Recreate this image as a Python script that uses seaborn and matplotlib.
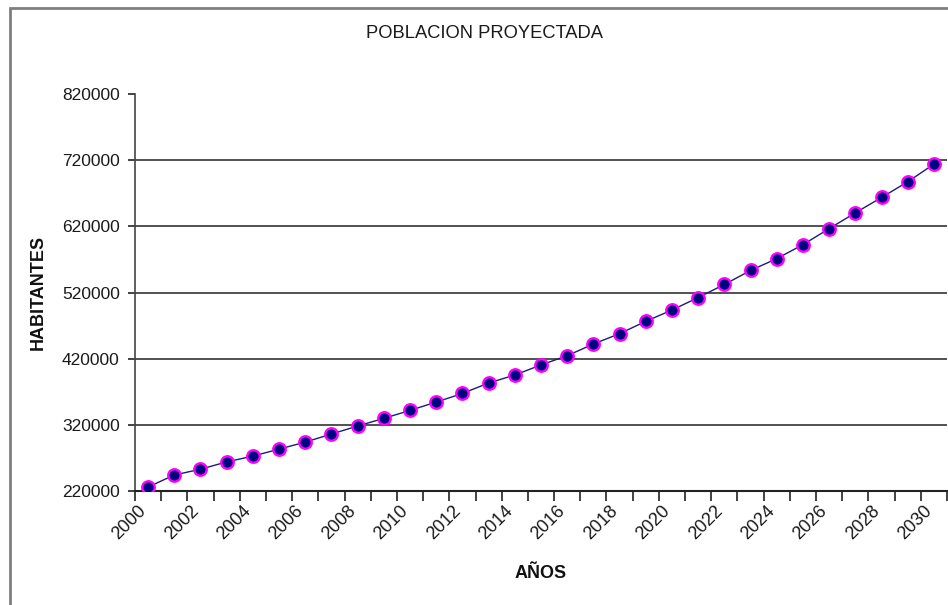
import matplotlib
matplotlib.use("Agg")
import matplotlib.pyplot as plt
from matplotlib.patches import Rectangle
import numpy as np
import pandas as pd
import seaborn as sns

# Projected population by year
years = list(range(2000, 2031))
habitantes = [226000, 244200, 252900, 264000, 272700, 283300, 293900, 306100,
              318200, 329800, 341800, 354400, 367400, 383200, 395300, 410500,
              424500, 442100, 457800, 476400, 493500, 512400, 532100, 553300,
              571200, 592300, 616500, 640400, 663600, 687300, 714000]
y_ticks = [220000, 320000, 420000, 520000, 620000, 720000, 820000]
x_labels = list(range(2000, 2031, 2))

df = pd.DataFrame({"AÑOS": years, "HABITANTES": habitantes})

sns.set_theme(style="white")
plt.rcParams["font.family"] = ["Liberation Sans", "DejaVu Sans"]

fig = plt.figure(figsize=(9.48, 6.05), dpi=100)
ax = fig.add_axes([135 / 948, 1 - 491 / 605, 812 / 948, 397 / 605])

# outer chart frame
fig.patches.append(Rectangle((10 / 948, -0.05), 1.1, 1 - 8 / 605 + 0.05,
                             transform=fig.transFigure, fill=False,
                             edgecolor="#7f7f7f", linewidth=2, zorder=0))

sns.lineplot(data=df, x="AÑOS", y="HABITANTES", ax=ax, color="#1a1a80",
             linewidth=1.0, marker="o", markersize=9,
             markerfacecolor="#000080", markeredgecolor="#ff00ff",
             markeredgewidth=1.7, zorder=3)

ax.set_xlim(1999.5, 2030.5)
ax.set_ylim(220000, 820000)

# category boundaries carry the tick marks; rotated labels end just
# left of their year's centre
ax.set_xticks(np.arange(1999.5, 2031, 1.0))
ax.set_xticklabels([])
ax.set_xticks([y - 0.4 for y in x_labels], minor=True)
ax.set_xticklabels([str(y) for y in x_labels], minor=True, rotation=45,
                   ha="right", va="top", rotation_mode="anchor", fontsize=13,
                   color="#1a1a1a")
ax.tick_params(axis="x", which="major", direction="out", length=7, width=1.2,
               color="#222222", bottom=True)
ax.tick_params(axis="x", which="minor", length=0, pad=8, bottom=True)

ax.set_yticks(y_ticks)
ax.set_yticklabels([str(v) for v in y_ticks], fontsize=12.5, color="#1a1a1a")
ax.tick_params(axis="y", direction="out", length=5, width=1.2,
               color="#222222", left=True, pad=6)

ax.grid(axis="y", color="#333333", linewidth=1.2)
ax.grid(axis="x", visible=False)
ax.yaxis.get_gridlines()[-1].set_visible(False)
for side in ("top", "right"):
    ax.spines[side].set_visible(False)
ax.spines["left"].set_color("#444444")
ax.spines["left"].set_linewidth(1.2)
ax.spines["bottom"].set_color("#222222")
ax.spines["bottom"].set_linewidth(1.5)

ax.set_xlabel("AÑOS", fontsize=13, fontweight="bold", color="#111111",
              labelpad=16)
ax.set_ylabel("HABITANTES", fontsize=13, fontweight="bold", color="#111111",
              labelpad=11)
fig.text(485 / 948, 1 - 33 / 605, "POBLACION PROYECTADA", ha="center",
         va="center", fontsize=13.2, color="#1a1a1a")

fig.savefig("out.png", dpi=100)
